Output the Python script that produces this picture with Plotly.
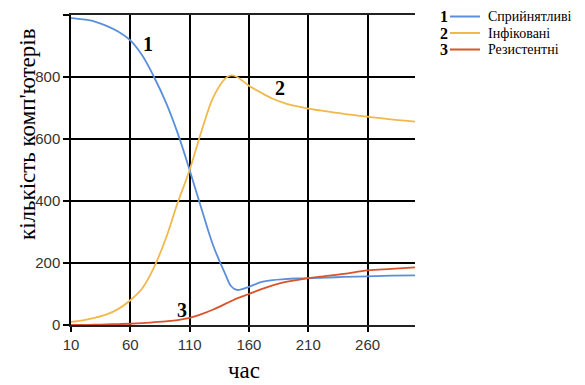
import plotly.graph_objects as go

# time (hours)
t = [10, 20, 30, 40, 50, 60, 70, 80, 90, 100, 110, 120, 130, 140, 145, 150,
     160, 170, 180, 190, 200, 210, 220, 240, 260, 280, 300]

susceptible = [990, 986, 979, 965, 946, 918, 870, 800, 718, 618, 500, 375, 255,
               165, 125, 113, 123, 138, 145, 148, 150, 151, 152, 155, 157, 159, 160]

infected = [10, 15, 23, 34, 52, 80, 118, 186, 280, 395, 500, 625, 735, 795, 805,
            800, 772, 750, 730, 716, 706, 698, 692, 681, 672, 663, 656]

resistant = [0, 0.5, 1, 2, 3, 4, 6, 9, 12, 16, 23, 35, 50, 68, 77, 86,
             100, 115, 128, 138, 145, 151, 156, 165, 176, 181, 186]

series_names = ["Сприйнятливі", "Інфіковані", "Резистентні"]
series_nums = ["1", "2", "3"]
colors = ["#5B8FDB", "#F2B84B", "#D9542B"]

x_ticks = [10, 60, 110, 160, 210, 260]
y_ticks = [0, 200, 400, 600, 800, 1000]

fig = go.Figure()
for vals, name, c in zip([susceptible, infected, resistant], series_names, colors):
    fig.add_trace(go.Scatter(x=t, y=vals, mode="lines", name=name,
                             line=dict(color=c, width=1.8, shape="spline", smoothing=1.0),
                             showlegend=False))

# page offset (browser body margin) compensation
OFF = 8
# plot geometry in the reference picture (pixels)
L, R, T, B = 71, 415, 15, 325
W, H = R - L, B - T
FW, FH = 585 - OFF, 385 - OFF


def px(x):
    return (x - L) / W


def py(y):
    return (B - y) / H


annotations = []
# curve labels
for num, (xv, yv) in zip(series_nums, [(75, 905), (186, 765), (103.5, 50)]):
    annotations.append(dict(x=xv, y=yv, xref="x", yref="y", text="<b>%s</b>" % num,
                            showarrow=False,
                            font=dict(family="Liberation Serif", size=20, color="black"),
                            xanchor="center", yanchor="middle"))

# legend
shapes = []
for i, (num, name, c) in enumerate(zip(series_nums, series_names, colors)):
    yy = 16.5 + 16.5 * i
    annotations.append(dict(x=px(444), y=py(yy), xref="paper", yref="paper",
                            text="<b>%s</b>" % num, showarrow=False,
                            font=dict(family="Liberation Serif", size=16, color="black"),
                            xanchor="center", yanchor="middle"))
    shapes.append(dict(type="line", xref="paper", yref="paper",
                       x0=px(450), x1=px(480), y0=py(yy), y1=py(yy),
                       line=dict(color=c, width=2)))
    annotations.append(dict(x=px(486), y=py(yy), xref="paper", yref="paper",
                            text=name, showarrow=False,
                            font=dict(family="Liberation Serif", size=14, color="black"),
                            xanchor="left", yanchor="middle"))

# y-axis title
annotations.append(dict(x=px(27), y=py(134), xref="paper", yref="paper",
                        text="кількість комп'ютерів", textangle=-90, showarrow=False,
                        font=dict(family="Liberation Serif", size=23, color="black"),
                        xanchor="center", yanchor="middle"))
# x-axis title
annotations.append(dict(x=px(244), y=py(370), xref="paper", yref="paper",
                        text="час", showarrow=False,
                        font=dict(family="Liberation Serif", size=23, color="black"),
                        xanchor="center", yanchor="middle"))

fig.update_layout(
    width=FW, height=FH,
    margin=dict(l=L - OFF, r=FW - (R - OFF), t=T - OFF, b=FH - (B - OFF), pad=0),
    paper_bgcolor="white", plot_bgcolor="white",
    annotations=annotations, shapes=shapes,
    xaxis=dict(range=[10, 300], tickvals=x_ticks, showgrid=True, gridcolor="black",
               gridwidth=1.5, showline=True, linecolor="#222222", linewidth=1.8,
               mirror=True,
               ticks="outside", ticklen=5, tickcolor="black", tickwidth=1.5,
               zeroline=False, automargin=False,
               tickfont=dict(family="Liberation Sans", size=15, color="#333333")),
    yaxis=dict(range=[0, 1000], tickvals=y_ticks, showgrid=True, gridcolor="black",
               gridwidth=1.5, showline=True, linecolor="black", linewidth=1.5,
               ticks="outside", ticklen=6, tickcolor="black", tickwidth=1.5,
               zeroline=False, automargin=False,
               tickfont=dict(family="Liberation Sans", size=15, color="#333333")),
)

fig.write_html("out.html")
